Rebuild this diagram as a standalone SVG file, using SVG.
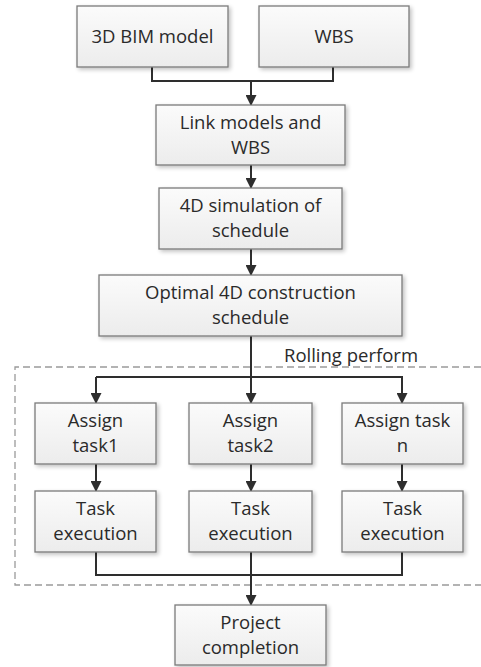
<svg xmlns="http://www.w3.org/2000/svg" width="481" height="667" viewBox="0 0 481 667">
<defs>
<linearGradient id="g" x1="0" y1="0" x2="0" y2="1">
<stop offset="0" stop-color="#fbfbfb"/>
<stop offset="1" stop-color="#ececec"/>
</linearGradient>
<filter id="sh" x="-10%" y="-10%" width="130%" height="130%">
<feGaussianBlur in="SourceAlpha" stdDeviation="2"/>
<feOffset dx="1.5" dy="1.5"/>
<feComponentTransfer><feFuncA type="linear" slope="0.25"/></feComponentTransfer>
<feMerge><feMergeNode/><feMergeNode in="SourceGraphic"/></feMerge>
</filter>
<marker id="ah" markerWidth="11" markerHeight="11" refX="10" refY="5.5" orient="auto" markerUnits="userSpaceOnUse">
<path d="M0,0 L11,5.5 L0,11 Z" fill="#2e2e2e"/>
</marker>
</defs>
<style>
.box{fill:url(#g);stroke:#7a7a7a;stroke-width:1.3;filter:url(#sh)}
.t{font-family:"Open Sans","Liberation Sans",sans-serif;font-size:18.5px;fill:#2a2a2a;text-anchor:middle}
.c{fill:none;stroke:#2e2e2e;stroke-width:2}
.a{marker-end:url(#ah)}
.d{fill:none;stroke:#9a9a9a;stroke-width:1.3;stroke-dasharray:7,4}
</style>
<rect width="481" height="667" fill="#ffffff"/>
<g id="rolling">
<path class="d" d="M481,367 H15 V585 H481"/>
<text class="t" x="351" y="362">Rolling perform</text>
</g>
<g id="connectors">
<path class="c" d="M152,67 V81 H333 V67"/>
<path class="c a" d="M251,81 V105"/>
<path class="c a" d="M251,165 V188"/>
<path class="c a" d="M251,249 V275"/>
<path class="c" d="M251,336 V377"/>
<path class="c a" d="M96,377 H402 V403"/>
<path class="c a" d="M96,377 V403"/>
<path class="c a" d="M251,377 V403"/>
<path class="c a" d="M96,464 V491"/>
<path class="c a" d="M251,464 V491"/>
<path class="c a" d="M402,464 V491"/>
<path class="c" d="M96,552 V575 H402 V552"/>
<path class="c" d="M251,552 V575"/>
<path class="c a" d="M251,575 V605"/>
</g>
<g id="bim"><rect class="box" x="77" y="6" width="151" height="61"/><text class="t" x="152.5" y="43">3D BIM model</text></g>
<g id="wbs"><rect class="box" x="259" y="6" width="150" height="61"/><text class="t" x="334" y="43">WBS</text></g>
<g id="link"><rect class="box" x="156" y="105" width="189" height="60"/><text class="t" x="250.5" y="129">Link models and</text><text class="t" x="250.5" y="154">WBS</text></g>
<g id="sim"><rect class="box" x="159" y="188" width="183" height="61"/><text class="t" x="250.5" y="212">4D simulation of</text><text class="t" x="250.5" y="237">schedule</text></g>
<g id="optimal"><rect class="box" x="99" y="275" width="303" height="61"/><text class="t" x="250.5" y="299">Optimal 4D construction</text><text class="t" x="250.5" y="324">schedule</text></g>
<g id="assign1"><rect class="box" x="35" y="403" width="121" height="61"/><text class="t" x="95.5" y="427">Assign</text><text class="t" x="95.5" y="452">task1</text></g>
<g id="assign2"><rect class="box" x="189" y="403" width="123" height="61"/><text class="t" x="250.5" y="427">Assign</text><text class="t" x="250.5" y="452">task2</text></g>
<g id="assignn"><rect class="box" x="342" y="403" width="121" height="61"/><text class="t" x="402.5" y="427">Assign task</text><text class="t" x="402.5" y="452">n</text></g>
<g id="exec1"><rect class="box" x="35" y="491" width="121" height="61"/><text class="t" x="95.5" y="515">Task</text><text class="t" x="95.5" y="540">execution</text></g>
<g id="exec2"><rect class="box" x="189" y="491" width="123" height="61"/><text class="t" x="250.5" y="515">Task</text><text class="t" x="250.5" y="540">execution</text></g>
<g id="execn"><rect class="box" x="342" y="491" width="121" height="61"/><text class="t" x="402.5" y="515">Task</text><text class="t" x="402.5" y="540">execution</text></g>
<g id="project"><rect class="box" x="175" y="605" width="151" height="60"/><text class="t" x="250.5" y="629">Project</text><text class="t" x="250.5" y="654">completion</text></g>
</svg>
